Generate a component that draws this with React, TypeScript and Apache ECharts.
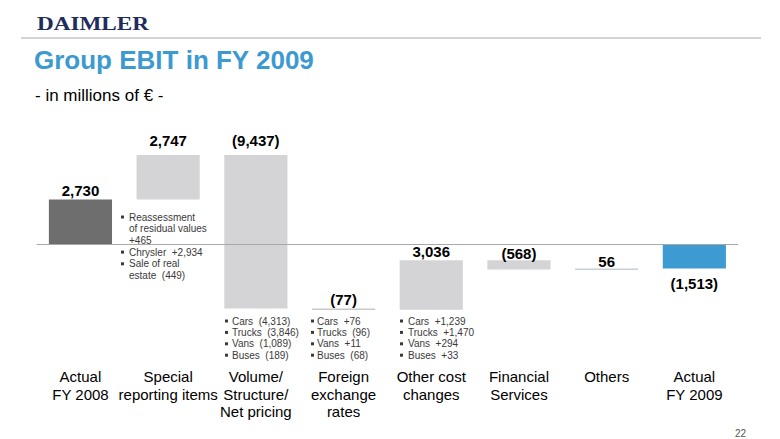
import React, { useEffect, useRef } from "react";
import * as echarts from "echarts";

// ---------- data ----------
const categories = [
  "Actual\nFY 2008",
  "Special\nreporting items",
  "Volume/\nStructure/\nNet pricing",
  "Foreign\nexchange\nrates",
  "Other cost\nchanges",
  "Financial\nServices",
  "Others",
  "Actual\nFY 2009",
];
const deltas = [2730, 2747, -9437, -77, 3036, -568, 56, -1513];
const isTotal = [true, false, false, false, false, false, false, true];
const valueLabels = ["2,730", "2,747", "(9,437)", "(77)", "3,036", "(568)", "56", "(1,513)"];

const specialNotes = [["Reassessment", "of residual values", "+465"], ["Chrysler  +2,934"], ["Sale of real", "estate  (449)"]];
const volumeNotes = ["Cars  (4,313)", "Trucks  (3,846)", "Vans  (1,089)", "Buses  (189)"];
const fxNotes = ["Cars  +76", "Trucks  (96)", "Vans  +11", "Buses  (68)"];
const otherCostNotes = ["Cars  +1,239", "Trucks  +1,470", "Vans  +294", "Buses  +33"];

// ---------- style ----------
const barColors = ["#6e6e6e", "#d4d4d6", "#d4d4d6", "#c9c9cb", "#d4d4d6", "#d4d4d6", "#c6d0da", "#3e9bd1"];
const labelOffsetPx = [9, 14.5, 14.5, 8.5, 8.5, 7, 7.5, 14.5];
const FONT = "'Liberation Sans', Arial, Helvetica, sans-serif";
const GRID_LEFT = 36.6;
const GRID_RIGHT = 780 - 738.2;

function buildRows() {
  const rows: number[][] = [];
  let cum = 0;
  deltas.forEach((d, i) => {
    let start: number, end: number;
    if (isTotal[i]) {
      start = 0;
      end = d;
      cum = d;
    } else {
      start = cum;
      end = cum + d;
      cum = end;
    }
    rows.push([i, Math.min(start, end), Math.max(start, end)]);
  });
  return rows;
}

function noteGraphics(items: string[][], bulletX: number, textX: number, firstY: number, lh: number) {
  const els: any[] = [];
  let line = 0;
  items.forEach((lines) => {
    const y0 = firstY + line * lh;
    els.push({
      type: "rect",
      shape: { x: bulletX, y: y0 - 1.5, width: 3, height: 3 },
      style: { fill: "#3a3a3a" },
    });
    lines.forEach((t) => {
      els.push({
        type: "text",
        x: textX,
        y: firstY + line * lh,
        style: {
          text: t,
          fontSize: 10,
          fontFamily: FONT,
          fill: "#3a3a3a",
          align: "left",
          verticalAlign: "middle",
        },
      });
      line++;
    });
  });
  return els;
}

export default function App() {
  const ref = useRef<HTMLDivElement>(null);

  useEffect(() => {
    if (!ref.current) return;
    const chart = echarts.init(ref.current, undefined, { renderer: "svg" });
    const rows = buildRows();

    const graphic: any[] = [
      {
        type: "text",
        x: 37,
        y: 24,
        scaleX: 1.22,
        style: {
          text: "DAIMLER",
          fontSize: 19,
          fontWeight: "bold",
          fontFamily: "'Liberation Serif', 'Times New Roman', serif",
          fill: "#1f2d5c",
          align: "left",
          verticalAlign: "middle",
        },
      },
      {
        type: "line",
        shape: { x1: 21, y1: 38, x2: 761, y2: 38 },
        style: { stroke: "#d3d3d3", lineWidth: 2 },
      },
      {
        type: "text",
        x: 34,
        y: 60,
        style: {
          text: "Group EBIT in FY 2009",
          fontSize: 26,
          fontWeight: "bold",
          fontFamily: FONT,
          fill: "#3d9ad1",
          align: "left",
          verticalAlign: "middle",
        },
      },
      {
        type: "text",
        x: 35,
        y: 95,
        style: {
          text: "- in millions of € -",
          fontSize: 17,
          fontFamily: FONT,
          fill: "#000",
          align: "left",
          verticalAlign: "middle",
        },
      },
      {
        type: "text",
        x: 746,
        y: 433,
        style: {
          text: "22",
          fontSize: 10,
          fontFamily: FONT,
          fill: "#555",
          align: "right",
          verticalAlign: "middle",
        },
      },
      ...noteGraphics(specialNotes, 121, 129, 217, 11.7),
      ...noteGraphics(volumeNotes.map((t) => [t]), 225, 232, 321, 11.4),
      ...noteGraphics(fxNotes.map((t) => [t]), 311, 317, 321, 11.4),
      ...noteGraphics(otherCostNotes.map((t) => [t]), 400, 408, 321, 11.4),
    ];

    chart.setOption({
      animation: false,
      grid: { left: GRID_LEFT, right: GRID_RIGHT, top: 122, bottom: 73, containLabel: false },
      xAxis: {
        type: "category",
        data: categories,
        axisLine: { show: false },
        axisTick: { show: false },
        splitLine: { show: false },
        axisLabel: {
          interval: 0,
          margin: 2,
          color: "#000",
          fontSize: 15,
          lineHeight: 17.5,
          fontFamily: FONT,
        },
      },
      yAxis: {
        type: "value",
        min: -7500,
        max: 7500,
        show: false,
        splitLine: { show: false },
      },
      series: [
        {
          type: "custom",
          data: rows,
          encode: { x: 0, y: [1, 2] },
          renderItem: (params: any, api: any) => {
            const i = params.dataIndex;
            const lo = api.value(1);
            const hi = api.value(2);
            const top = api.coord([i, hi]);
            const bot = api.coord([i, lo]);
            const bw = api.size([1, 0])[0] * 0.72;
            let h = bot[1] - top[1];
            if (h < 1.5) h = 1.5;
            const last = i === deltas.length - 1;
            const ly = last ? bot[1] + labelOffsetPx[i] : top[1] - labelOffsetPx[i];
            return {
              type: "group",
              children: [
                {
                  type: "rect",
                  shape: { x: top[0] - bw / 2, y: top[1], width: bw, height: h },
                  style: { fill: barColors[i] },
                },
                {
                  type: "text",
                  x: top[0],
                  y: ly,
                  style: {
                    text: valueLabels[i],
                    fontSize: 15,
                    fontWeight: "bold",
                    fontFamily: FONT,
                    fill: "#000",
                    align: "center",
                    verticalAlign: "middle",
                  },
                },
              ],
            };
          },
        },
        {
          type: "line",
          data: categories.map(() => "-"),
          symbol: "none",
          silent: true,
          markLine: {
            silent: true,
            symbol: "none",
            label: { show: false },
            lineStyle: { color: "#a8a8a8", type: "solid", width: 1 },
            data: [{ yAxis: 0 }],
          },
        },
      ],
      graphic,
    });

    return () => chart.dispose();
  }, []);

  return (
    <div
      ref={ref}
      style={{ position: "fixed", left: 0, top: 0, width: 780, height: 439, background: "#fff" }}
    />
  );
}
